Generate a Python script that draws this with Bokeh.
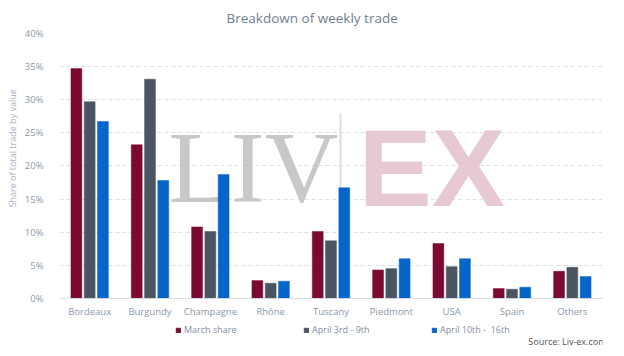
from bokeh.plotting import figure
from bokeh.models import (ColumnDataSource, FactorRange, FixedTicker, PrintfTickFormatter,
                          Legend, LegendItem, Label, BoxAnnotation, Title, Span)
from bokeh.core.properties import value
from bokeh.transform import dodge
from bokeh.embed import file_html
from bokeh.resources import INLINE

categories = ["Bordeaux", "Burgundy", "Champagne", "Rhône", "Tuscany",
              "Piedmont", "USA", "Spain", "Others"]
march_share = [34.7, 23.2, 10.8, 2.7, 10.1, 4.3, 8.3, 1.5, 4.1]
april_3_9 = [29.7, 33.1, 10.1, 2.3, 8.7, 4.5, 4.8, 1.4, 4.7]
april_10_16 = [26.7, 17.8, 18.7, 2.6, 16.7, 6.0, 6.0, 1.7, 3.3]
series_names = ["March share", "April 3rd - 9th", "April 10th -  16th"]
y_ticks = [0, 5, 10, 15, 20, 25, 30, 35, 40]

colors = ["#7b0a32", "#4a5561", "#0565c8"]
FONT = "Open Sans"
LABEL_COLOR = "#8a9aab"

src = ColumnDataSource(dict(cat=categories, m=march_share, a=april_3_9, b=april_10_16))

# the plot area reaches down to the page bottom so that legend and source fit inside it
p = figure(x_range=FactorRange(*categories), y_range=(-7.55, 40), width=608, height=348,
           output_backend="svg", toolbar_location=None,
           min_border_left=53, min_border_right=6, min_border_top=33, min_border_bottom=0)
p.outline_line_color = None
p.background_fill_color = "white"
p.border_fill_color = "white"

p.title.text = "Breakdown of weekly trade"
p.title.align = "left"
p.title.vertical_align = "top"
p.title.offset = 167
p.title.standoff = 10
p.title.text_font = FONT
p.title.text_font_size = "13.5px"
p.title.text_font_style = "normal"
p.title.text_color = "#6f8194"

# watermark
p.add_layout(Label(x=109, y=181, x_units="screen", y_units="screen", text="LIV",
                   text_font="Liberation Serif", text_font_size="102px",
                   text_color="#c8c8c8", text_baseline="middle", level="underlay"))
p.add_layout(BoxAnnotation(left=280, right=282, bottom=128, top=235,
                           left_units="screen", right_units="screen",
                           bottom_units="screen", top_units="screen",
                           fill_color="#d9dee3", fill_alpha=1, line_color=None, level="underlay"))
p.add_layout(Label(x=299, y=181, x_units="screen", y_units="screen", text="EX",
                   text_font="Liberation Sans", text_font_style="bold", text_font_size="110px",
                   text_color="#e7c9d2", text_baseline="middle", level="underlay"))

fields = ["m", "a", "b"]
offsets = [-0.22, 0.0, 0.22]
renderers = []
for f, off, c in zip(fields, offsets, colors):
    r = p.vbar(x=dodge("cat", off, range=p.x_range), top=f, width=0.18, source=src,
               fill_color=c, line_color=c, line_width=0.5)
    renderers.append(r)

# baseline and category labels
p.add_layout(Span(location=0, dimension="width", line_color="#d3dde7", line_width=1))
p.text(x="cat", y=0, text="cat", source=src, y_offset=7, text_align="center",
       text_baseline="top", text_font=value(FONT), text_font_size="9.5px",
       text_color=LABEL_COLOR)
p.xaxis.visible = False

p.yaxis.ticker = FixedTicker(ticks=y_ticks)
p.yaxis.formatter = PrintfTickFormatter(format="%d%%")
p.yaxis.axis_line_color = None
p.yaxis.major_tick_line_color = None
p.yaxis.minor_tick_line_color = None
p.yaxis.major_label_text_font = FONT
p.yaxis.major_label_text_font_size = "9.5px"
p.yaxis.major_label_text_color = LABEL_COLOR
p.yaxis.major_label_standoff = 10
p.add_layout(Title(text="Share of total trade by value", align="left", offset=141, standoff=6,
                   text_font=FONT, text_font_size="9px", text_font_style="normal",
                   text_color="#a5b4c2"), "left")

p.xgrid.grid_line_color = None
p.ygrid.grid_line_color = "#dcdfe3"
p.ygrid.grid_line_dash = "4 3"
p.ygrid.grid_line_width = 1

legend = Legend(items=[LegendItem(label=n, renderers=[r]) for n, r in zip(series_names, renderers)],
                orientation="horizontal", location=(116, 12),
                glyph_width=6, glyph_height=6, label_standoff=3, label_width=116,
                label_height=12, spacing=3, padding=0, margin=0,
                border_line_color=None, background_fill_alpha=0,
                label_text_font=FONT, label_text_font_size="9px", label_text_color="#7f8fa0")
p.add_layout(legend, "center")

p.add_layout(Label(x=547, y=7, x_units="screen", y_units="screen",
                   text="Source: Liv-ex.com", text_align="right", text_baseline="middle",
                   text_font=FONT, text_font_size="9px", text_color="#555555"))

open("out.html", "w").write(file_html(p, INLINE))
